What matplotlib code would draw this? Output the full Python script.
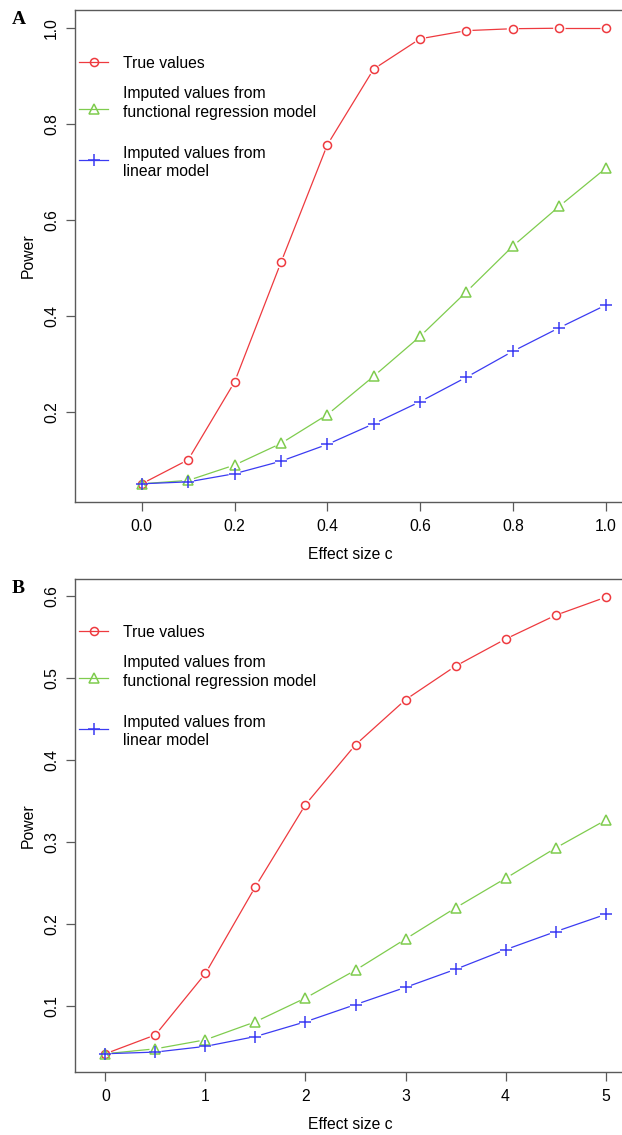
import numpy as np
import matplotlib
matplotlib.use("Agg")
import matplotlib.pyplot as plt

plt.rcParams['font.family'] = ['Liberation Sans', 'DejaVu Sans']

# ---------------- data ----------------
x_a = [0.0, 0.1, 0.2, 0.3, 0.4, 0.5, 0.6, 0.7, 0.8, 0.9, 1.0]
true_a = [0.051, 0.101, 0.263, 0.512, 0.757, 0.915, 0.978, 0.995, 0.999, 1.0, 1.0]
func_a = [0.051, 0.058, 0.090, 0.135, 0.195, 0.275, 0.358, 0.451, 0.546, 0.629, 0.708]
lin_a = [0.051, 0.055, 0.072, 0.098, 0.133, 0.176, 0.222, 0.273, 0.327, 0.376, 0.423]

x_b = [0.0, 0.5, 1.0, 1.5, 2.0, 2.5, 3.0, 3.5, 4.0, 4.5, 5.0]
true_b = [0.042, 0.065, 0.140, 0.246, 0.346, 0.419, 0.474, 0.515, 0.548, 0.577, 0.599]
func_b = [0.042, 0.048, 0.059, 0.081, 0.110, 0.144, 0.182, 0.220, 0.256, 0.293, 0.327]
lin_b = [0.042, 0.044, 0.051, 0.063, 0.081, 0.102, 0.123, 0.145, 0.169, 0.191, 0.212]

xticks_a = [0.0, 0.2, 0.4, 0.6, 0.8, 1.0]
xticklabels_a = ["0.0", "0.2", "0.4", "0.6", "0.8", "1.0"]
yticks_a = [0.2, 0.4, 0.6, 0.8, 1.0]
yticklabels_a = ["0.2", "0.4", "0.6", "0.8", "1.0"]
xticks_b = [0, 1, 2, 3, 4, 5]
xticklabels_b = ["0", "1", "2", "3", "4", "5"]
yticks_b = [0.1, 0.2, 0.3, 0.4, 0.5, 0.6]
yticklabels_b = ["0.1", "0.2", "0.3", "0.4", "0.5", "0.6"]

legend_lines = [["True values"],
                ["Imputed values from", "functional regression model"],
                ["Imputed values from", "linear model"]]
colors = ["#EE3A3F", "#7FCC4E", "#3B3BF2"]
markers = ["o", "^", "+"]
msizes = [5.8, 6.6, 9.0]

W, H = 622, 1135
fig = plt.figure(figsize=(W / 100, H / 100), dpi=100)

FS = 11.3
SPINE = "#5a5a5a"


def add_panel(top_px, bot_px):
    left_px, right_px = 75, 626
    ax = fig.add_axes([left_px / W, 1 - bot_px / H,
                       (right_px - left_px) / W, (bot_px - top_px) / H])
    return ax


def style_panel(ax, xlim_data, ydata, xticks, xtl, yticks, ytl):
    x0, x1 = xlim_data
    dx = (x1 - x0) * 0.04
    ax.set_xlim(x0 - dx, x1 + dx)
    ymin, ymax = min(ydata), max(ydata)
    dy = (ymax - ymin) * 0.04
    ax.set_ylim(ymin - dy, ymax + dy)
    ax.set_xticks(xticks)
    ax.set_xticklabels(xtl, fontsize=FS)
    ax.set_yticks(yticks)
    ax.set_yticklabels(ytl, fontsize=FS, rotation=90, va="center")
    ax.tick_params(direction="out", length=6.5, width=0.9, color=SPINE, pad=5)
    ax.tick_params(axis="x", pad=6)
    for s in ax.spines.values():
        s.set_color(SPINE)
        s.set_linewidth(1.0)
    ax.set_xlabel("Effect size c", fontsize=FS, labelpad=9)
    ax.set_ylabel("Power", fontsize=FS, labelpad=6)


def draw_gapped(ax, xs, ys, color, marker, ms, gap=6.0):
    # R type="b": line segments with gaps around points
    trans = ax.transData
    inv = trans.inverted()
    pts = trans.transform(np.column_stack([xs, ys]))
    for p0, p1 in zip(pts[:-1], pts[1:]):
        d = p1 - p0
        L = np.hypot(*d)
        if L <= 2 * gap:
            continue
        u = d / L
        q = inv.transform(np.vstack([p0 + u * gap, p1 - u * gap]))
        ax.plot(q[:, 0], q[:, 1], color=color, lw=0.9, solid_capstyle="butt")
    ax.plot(xs, ys, linestyle="none", marker=marker, ms=ms, mfc="none",
            mec=color, mew=1.1)


def legend(ax):
    # manual R-style legend (bty="n"), offsets in pixels from axes top-left
    bb = ax.get_position()
    aw, ah = bb.width * W, bb.height * H
    fx = lambda px: px / aw
    fy = lambda py: 1 - py / ah
    text_rows = [[52], [82, 101], [142, 160]]
    handle_rows = [52, 99, 150]
    for lines, rows, hy, c, m, ms in zip(legend_lines, text_rows, handle_rows,
                                         colors, markers, msizes):
        ax.plot([fx(4), fx(33)], [fy(hy), fy(hy)], color=c, lw=0.9,
                transform=ax.transAxes, clip_on=False)
        ax.plot([fx(18.5)], [fy(hy)], marker=m, ms=ms, mfc="none", mec=c,
                mew=1.1, transform=ax.transAxes, clip_on=False)
        for txt, ry in zip(lines, rows):
            ax.text(fx(48), fy(ry), txt, transform=ax.transAxes,
                    fontsize=FS, ha="left", va="center_baseline")


# Panel A
axA = add_panel(10, 502)
style_panel(axA, (-0.1, 1.0), true_a + func_a + lin_a,
            xticks_a, xticklabels_a, yticks_a, yticklabels_a)
for ys, c, m, ms in zip([true_a, func_a, lin_a], colors, markers, msizes):
    draw_gapped(axA, x_a, ys, c, m, ms)
legend(axA)

# Panel B
axB = add_panel(579, 1072)
style_panel(axB, (-0.1, 5.0), true_b + func_b + lin_b,
            xticks_b, xticklabels_b, yticks_b, yticklabels_b)
for ys, c, m, ms in zip([true_b, func_b, lin_b], colors, markers, msizes):
    draw_gapped(axB, x_b, ys, c, m, ms)
legend(axB)

fig.text(12 / W, 1 - 20 / H, "A", fontsize=14, fontweight="bold",
         family="Liberation Serif", va="center", ha="left")
fig.text(12 / W, 1 - 589 / H, "B", fontsize=14, fontweight="bold",
         family="Liberation Serif", va="center", ha="left")

fig.savefig("out.png", dpi=100)
